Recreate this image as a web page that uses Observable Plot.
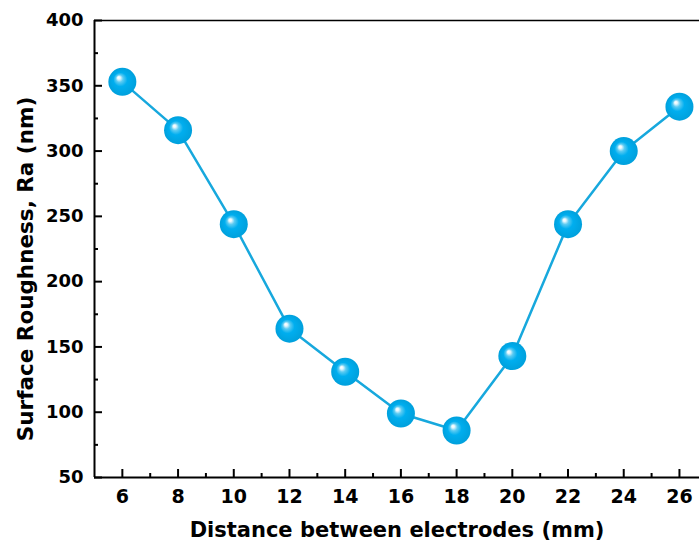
<!DOCTYPE html>
<html>
<head>
<meta charset="utf-8">
<script src="https://cdn.jsdelivr.net/npm/d3@7"></script>
<script src="https://cdn.jsdelivr.net/npm/@observablehq/plot@0.6"></script>
<style>
  html, body { margin: 0; padding: 0; background: #fff; overflow: hidden; }
  #chart svg { display: block; }
</style>
</head>
<body>
<div id="chart"></div>
<script>
const distances = [6, 8, 10, 12, 14, 16, 18, 20, 22, 24, 26];
const roughness = [353, 316, 244, 164, 131, 99, 86, 143, 244, 300, 334];
const xMajorTicks = [6, 8, 10, 12, 14, 16, 18, 20, 22, 24, 26];
const xMinorTicks = [7, 9, 11, 13, 15, 17, 19, 21, 23, 25];
const yMajorTicks = [50, 100, 150, 200, 250, 300, 350, 400];
const yMinorTicks = [75, 125, 175, 225, 275, 325, 375];
const xTitle = "Distance between electrodes (mm)";
const yTitle = "Surface Roughness, Ra (nm)";

const data = distances.map((d, i) => ({d, r: roughness[i]}));

const plot = Plot.plot({
  width: 699,
  height: 545,
  marginLeft: 94,
  marginRight: 0,
  marginTop: 20,
  marginBottom: 68,
  style: {fontFamily: "'DejaVu Sans', sans-serif", fontWeight: "bold", fontSize: "18px", color: "#000", background: "#fff"},
  x: {domain: [5, 26.72]},
  y: {domain: [50, 400]},
  marks: [
    Plot.axisX({ticks: xMajorTicks, tickSize: 0, tickPadding: 12, fontSize: 19, tickFormat: d => String(d), label: null}),
    Plot.axisX({ticks: xMajorTicks, tickSize: -8, text: null, label: null, strokeWidth: 2}),
    Plot.axisX({ticks: xMinorTicks, tickSize: -4, text: null, label: null, strokeWidth: 2}),
    Plot.axisY({ticks: yMajorTicks, tickSize: 0, tickPadding: 11, fontSize: 18, label: null}),
    Plot.axisY({ticks: yMajorTicks, tickSize: -8, text: null, label: null, strokeWidth: 2}),
    Plot.axisY({ticks: yMinorTicks, tickSize: -4, text: null, label: null, strokeWidth: 2}),
    Plot.text([xTitle], {frameAnchor: "bottom", dy: 53, lineAnchor: "middle", textAnchor: "middle", fontSize: 21, fontWeight: "bold", fill: "#000"}),
    Plot.text([yTitle], {frameAnchor: "left", dx: -68, dy: 20, rotate: -90, lineAnchor: "middle", textAnchor: "middle", fontSize: 21.5, fontWeight: "bold", fill: "#000"}),
    Plot.ruleX([5], {stroke: "#000", strokeWidth: 2}),
    Plot.ruleY([50], {stroke: "#000", strokeWidth: 2}),
    Plot.ruleY([400], {stroke: "#000", strokeWidth: 1.5}),
    Plot.line(data, {x: "d", y: "r", stroke: "#17a8dd", strokeWidth: 2.5}),
    Plot.dot(data, {x: "d", y: "r", r: 14, fill: "url(#ball)", stroke: "none"})
  ]
});

const svg = d3.select(plot.tagName.toLowerCase() === "svg" ? plot : plot.querySelector("svg"));
const defs = svg.insert("defs", ":first-child");
const g = defs.append("radialGradient").attr("id", "ball")
  .attr("cx", "0.5").attr("cy", "0.5").attr("r", "0.5")
  .attr("fx", "0.36").attr("fy", "0.34");
g.append("stop").attr("offset", "0").attr("stop-color", "#ffffff");
g.append("stop").attr("offset", "0.1").attr("stop-color", "#e8f8fe");
g.append("stop").attr("offset", "0.26").attr("stop-color", "#5ccbf2");
g.append("stop").attr("offset", "0.5").attr("stop-color", "#00aeef");
g.append("stop").attr("offset", "1").attr("stop-color", "#00a0dc");

document.getElementById("chart").appendChild(plot);
</script>
</body>
</html>
